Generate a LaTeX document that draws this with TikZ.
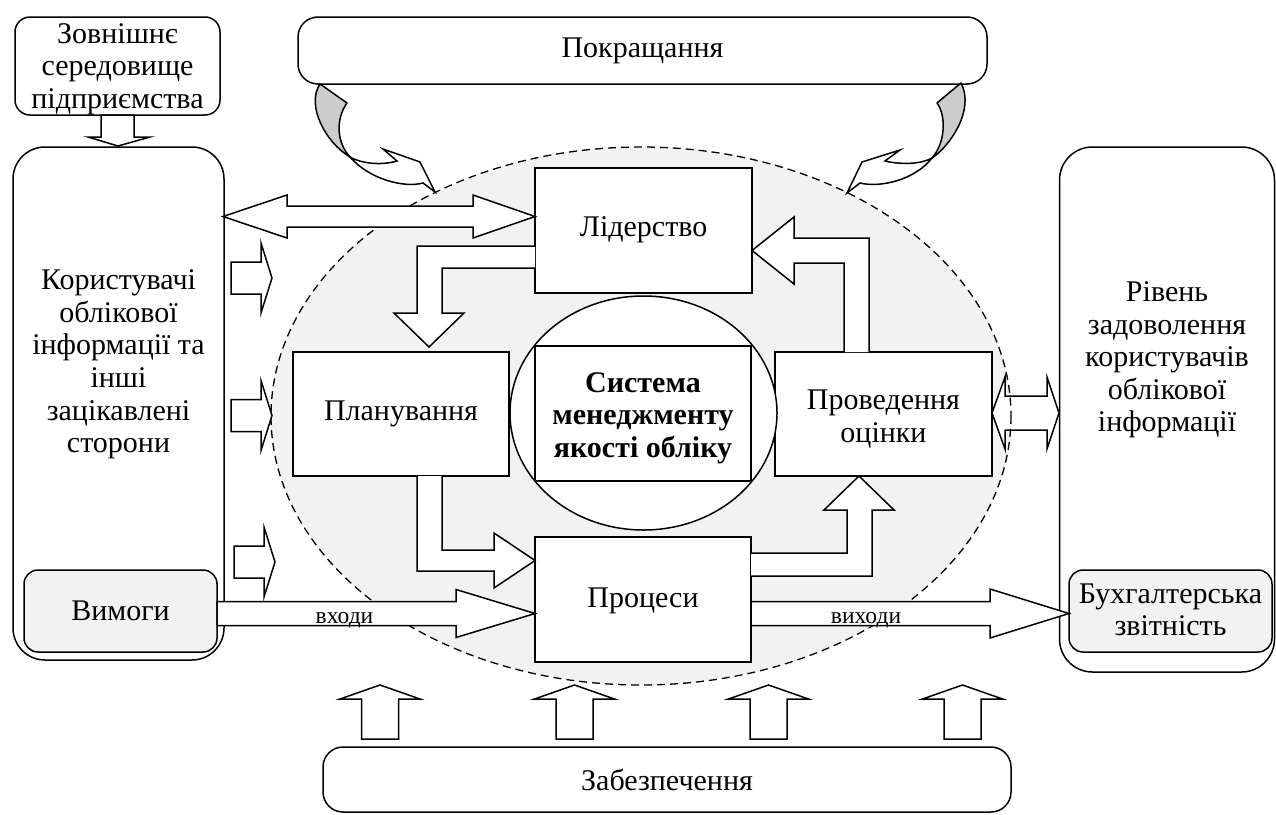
\documentclass[tikz,border=0pt]{standalone}
\usepackage{fontspec}
\setmainfont{Liberation Serif}
\definecolor{ellfill}{RGB}{242,242,242}
\definecolor{boxfill}{RGB}{242,242,242}
\definecolor{backside}{RGB}{204,204,204}

% horizontal block arrow pointing right: tail x, tip x, centre y, shaft half, head half, head-back x
\newcommand{\blkright}[6]{%
  \draw[blk] (#1,{#3-#4}) -- (#6,{#3-#4}) -- (#6,{#3-#5}) -- (#2,#3)
    -- (#6,{#3+#5}) -- (#6,{#3+#4}) -- (#1,{#3+#4}) -- cycle;}
% vertical block arrow pointing up: centre x, tail y, tip y, shaft half, head half, head-base y
\newcommand{\blkup}[6]{%
  \draw[blk] ({#1-#4},#2) -- ({#1-#4},#6) -- ({#1-#5},#6) -- (#1,#3)
    -- ({#1+#5},#6) -- ({#1+#4},#6) -- ({#1+#4},#2) -- cycle;}
% double-headed horizontal block arrow: left tip, right tip, centre y, shaft half, head half, left back, right back
\newcommand{\blkboth}[7]{%
  (#1,#3) -- (#6,{#3-#5}) -- (#6,{#3-#4}) -- (#7,{#3-#4}) -- (#7,{#3-#5})
    -- (#2,#3) -- (#7,{#3+#5}) -- (#7,{#3+#4}) -- (#6,{#3+#4}) -- (#6,{#3+#5}) -- cycle}

\begin{document}
\begin{tikzpicture}[x=1pt,y=-1pt,line width=1.5pt,
  blk/.style={draw,fill=white,line join=miter},
  sqbox/.style={draw,fill=white,inner sep=0pt},
  rbox/.style={draw,fill=white,inner sep=0pt,rounded corners=#1},
  txt/.style={align=center,inner sep=0pt,font=\fontsize{30}{32.6}\selectfont},
  lbl/.style={inner sep=0pt,font=\fontsize{23.5}{27}\selectfont}]
\useasboundingbox (0,0) rectangle (1276,814);

% dashed field of the quality system
\draw[fill=ellfill,dash pattern=on 8pt off 5pt,line width=1.3pt] (641,416) ellipse [x radius=370, y radius=269];

% outer boxes
\node[rbox=15pt,minimum width=205,minimum height=98] (ext) at (117.5,66) {};
\node[rbox=20pt,minimum width=689,minimum height=67] (impr) at (642.5,50.5) {};
\node[rbox=20pt,minimum width=688,minimum height=65] (supp) at (667,779.5) {};
\node[rbox=32pt,minimum width=211,minimum height=513] (users) at (118.5,403.5) {};
\node[rbox=33pt,minimum width=215,minimum height=525] (sat) at (1167,409.5) {};
\node[rbox=14pt,fill=boxfill,minimum width=193,minimum height=82] (req) at (120.5,611) {};
\node[rbox=14pt,fill=boxfill,minimum width=203,minimum height=82] (rep) at (1170.5,611) {};

% process boxes
\node[sqbox,minimum width=217,minimum height=125] (lead) at (643.5,230.5) {};
\node[sqbox,minimum width=216,minimum height=124] (plan) at (401,414) {};
\node[sqbox,minimum width=216,minimum height=125] (proc) at (643,599.5) {};
\node[sqbox,minimum width=217,minimum height=124] (eval) at (883.5,414) {};
\draw[fill=white] (643.5,413) ellipse [x radius=133.5, y radius=117];
\node[sqbox,minimum width=216,minimum height=135] (sys) at (643,413.5) {};

% environment -> users
\draw[blk] (101,115) -- (101,137) -- (88,137) -- (118,146) -- (150,137) -- (134,137) -- (134,115) -- cycle;

% users <-> leadership
\draw[blk] \blkboth{223}{535}{216.5}{10.5}{21.5}{287}{473};

% users -> system
\blkright{231}{272}{278}{16}{35}{261}
\blkright{231}{272}{415.5}{16}{35}{261}
\blkright{234}{275}{562}{16}{35}{264}

% leadership -> planning
\draw[blk] (535,246) -- (417,246) -- (417,313) -- (394,313) -- (429,347) -- (464,313)
  -- (442,313) -- (442,268) -- (535,268);
% planning -> processes
\draw[blk] (417,476) -- (417,571) -- (494,571) -- (494,588) -- (535,560.5) -- (494,533)
  -- (494,550) -- (442,550) -- (442,476);
% processes -> evaluation
\draw[blk] (751,553) -- (847,553) -- (847,510) -- (824,510) -- (859,476) -- (894,510)
  -- (872,510) -- (872,576) -- (751,576);
% evaluation -> leadership
\draw[blk] (844,352) -- (844,263) -- (794,263) -- (794,284) -- (752,250.5) -- (794,217)
  -- (794,238) -- (869,238) -- (869,352);

% inputs and outputs
\blkright{217}{535}{613.5}{12}{24}{456}
\blkright{751}{1069}{613.5}{12}{24.5}{990}

% evaluation <-> satisfaction
\draw[blk] \blkboth{992}{1059}{413}{17}{36}{1005}{1047};
\begin{scope}
  \clip \blkboth{992}{1059}{413}{17}{36}{1005}{1047};
  \draw[dash pattern=on 8pt off 5pt,line width=1.3pt] (641,416) ellipse [x radius=370, y radius=269];
\end{scope}

% resources -> system
\blkup{380}{739}{685}{18.5}{40}{699}
\blkup{574.5}{739}{685}{18.5}{40}{699}
\blkup{768.5}{739}{685}{18.5}{40}{699}
\blkup{962.5}{739}{685}{18.5}{40}{699}

% improvement: twisted ribbon arrows
\draw[fill=backside,line join=round] (320,84) -- (347,103) .. controls (336,118) and (336,142) .. (350,157)
  .. controls (325,142) and (306,105) .. (320,84) -- cycle;
\draw[fill=white,line join=miter] (350,157) .. controls (360,163) and (380,166) .. (397,161)
  -- (383,149) -- (420,162) -- (435,192) -- (423,183)
  .. controls (405,188) and (370,180) .. (350,157) -- cycle;
\draw[fill=backside,line join=round] (961,83) -- (937,103) .. controls (946,115) and (946,142) .. (932,158)
  .. controls (950,146) and (975,110) .. (961,83) -- cycle;
\draw[fill=white,line join=miter] (932,158) .. controls (922,164) and (902,165) .. (885,161)
  -- (900,150) -- (862,162) -- (847,193) -- (860,183)
  .. controls (880,188) and (915,180) .. (932,158) -- cycle;

% texts
\node[txt] (exttxt) at (117.5,69) {Зовнішнє\\середовище\\підприємства};
\node[txt] (imprtxt) at (642.5,51) {Покращання};
\node[txt] (supptxt) at (667,780) {Забезпечення};
\node[txt] (userstxt) at (118.5,364.5) {Користувачі\\облікової\\інформації та\\інші\\зацікавлені\\сторони};
\node[txt] (sattxt) at (1167,360) {Рівень\\задоволення\\користувачів\\облікової\\інформації};
\node[txt] (reqtxt) at (120.5,611) {Вимоги};
\node[txt] (reptxt) at (1170.5,610) {Бухгалтерська\\звітність};
\node[txt] (leadtxt) at (643.5,230) {Лідерство};
\node[txt] (plantxt) at (401,414) {Планування};
\node[txt] (proctxt) at (643,600.5) {Процеси};
\node[txt] (evaltxt) at (883.5,419) {Проведення\\оцінки};
\node[txt,font=\fontsize{30}{32.6}\selectfont\bfseries] (systxt) at (643,418) {Система\\менеджменту\\якості обліку};
\node[lbl,anchor=base] (intxt) at (344.5,623) {входи};
\node[lbl,anchor=base] (outtxt) at (866,623) {виходи};
\end{tikzpicture}
\end{document}
